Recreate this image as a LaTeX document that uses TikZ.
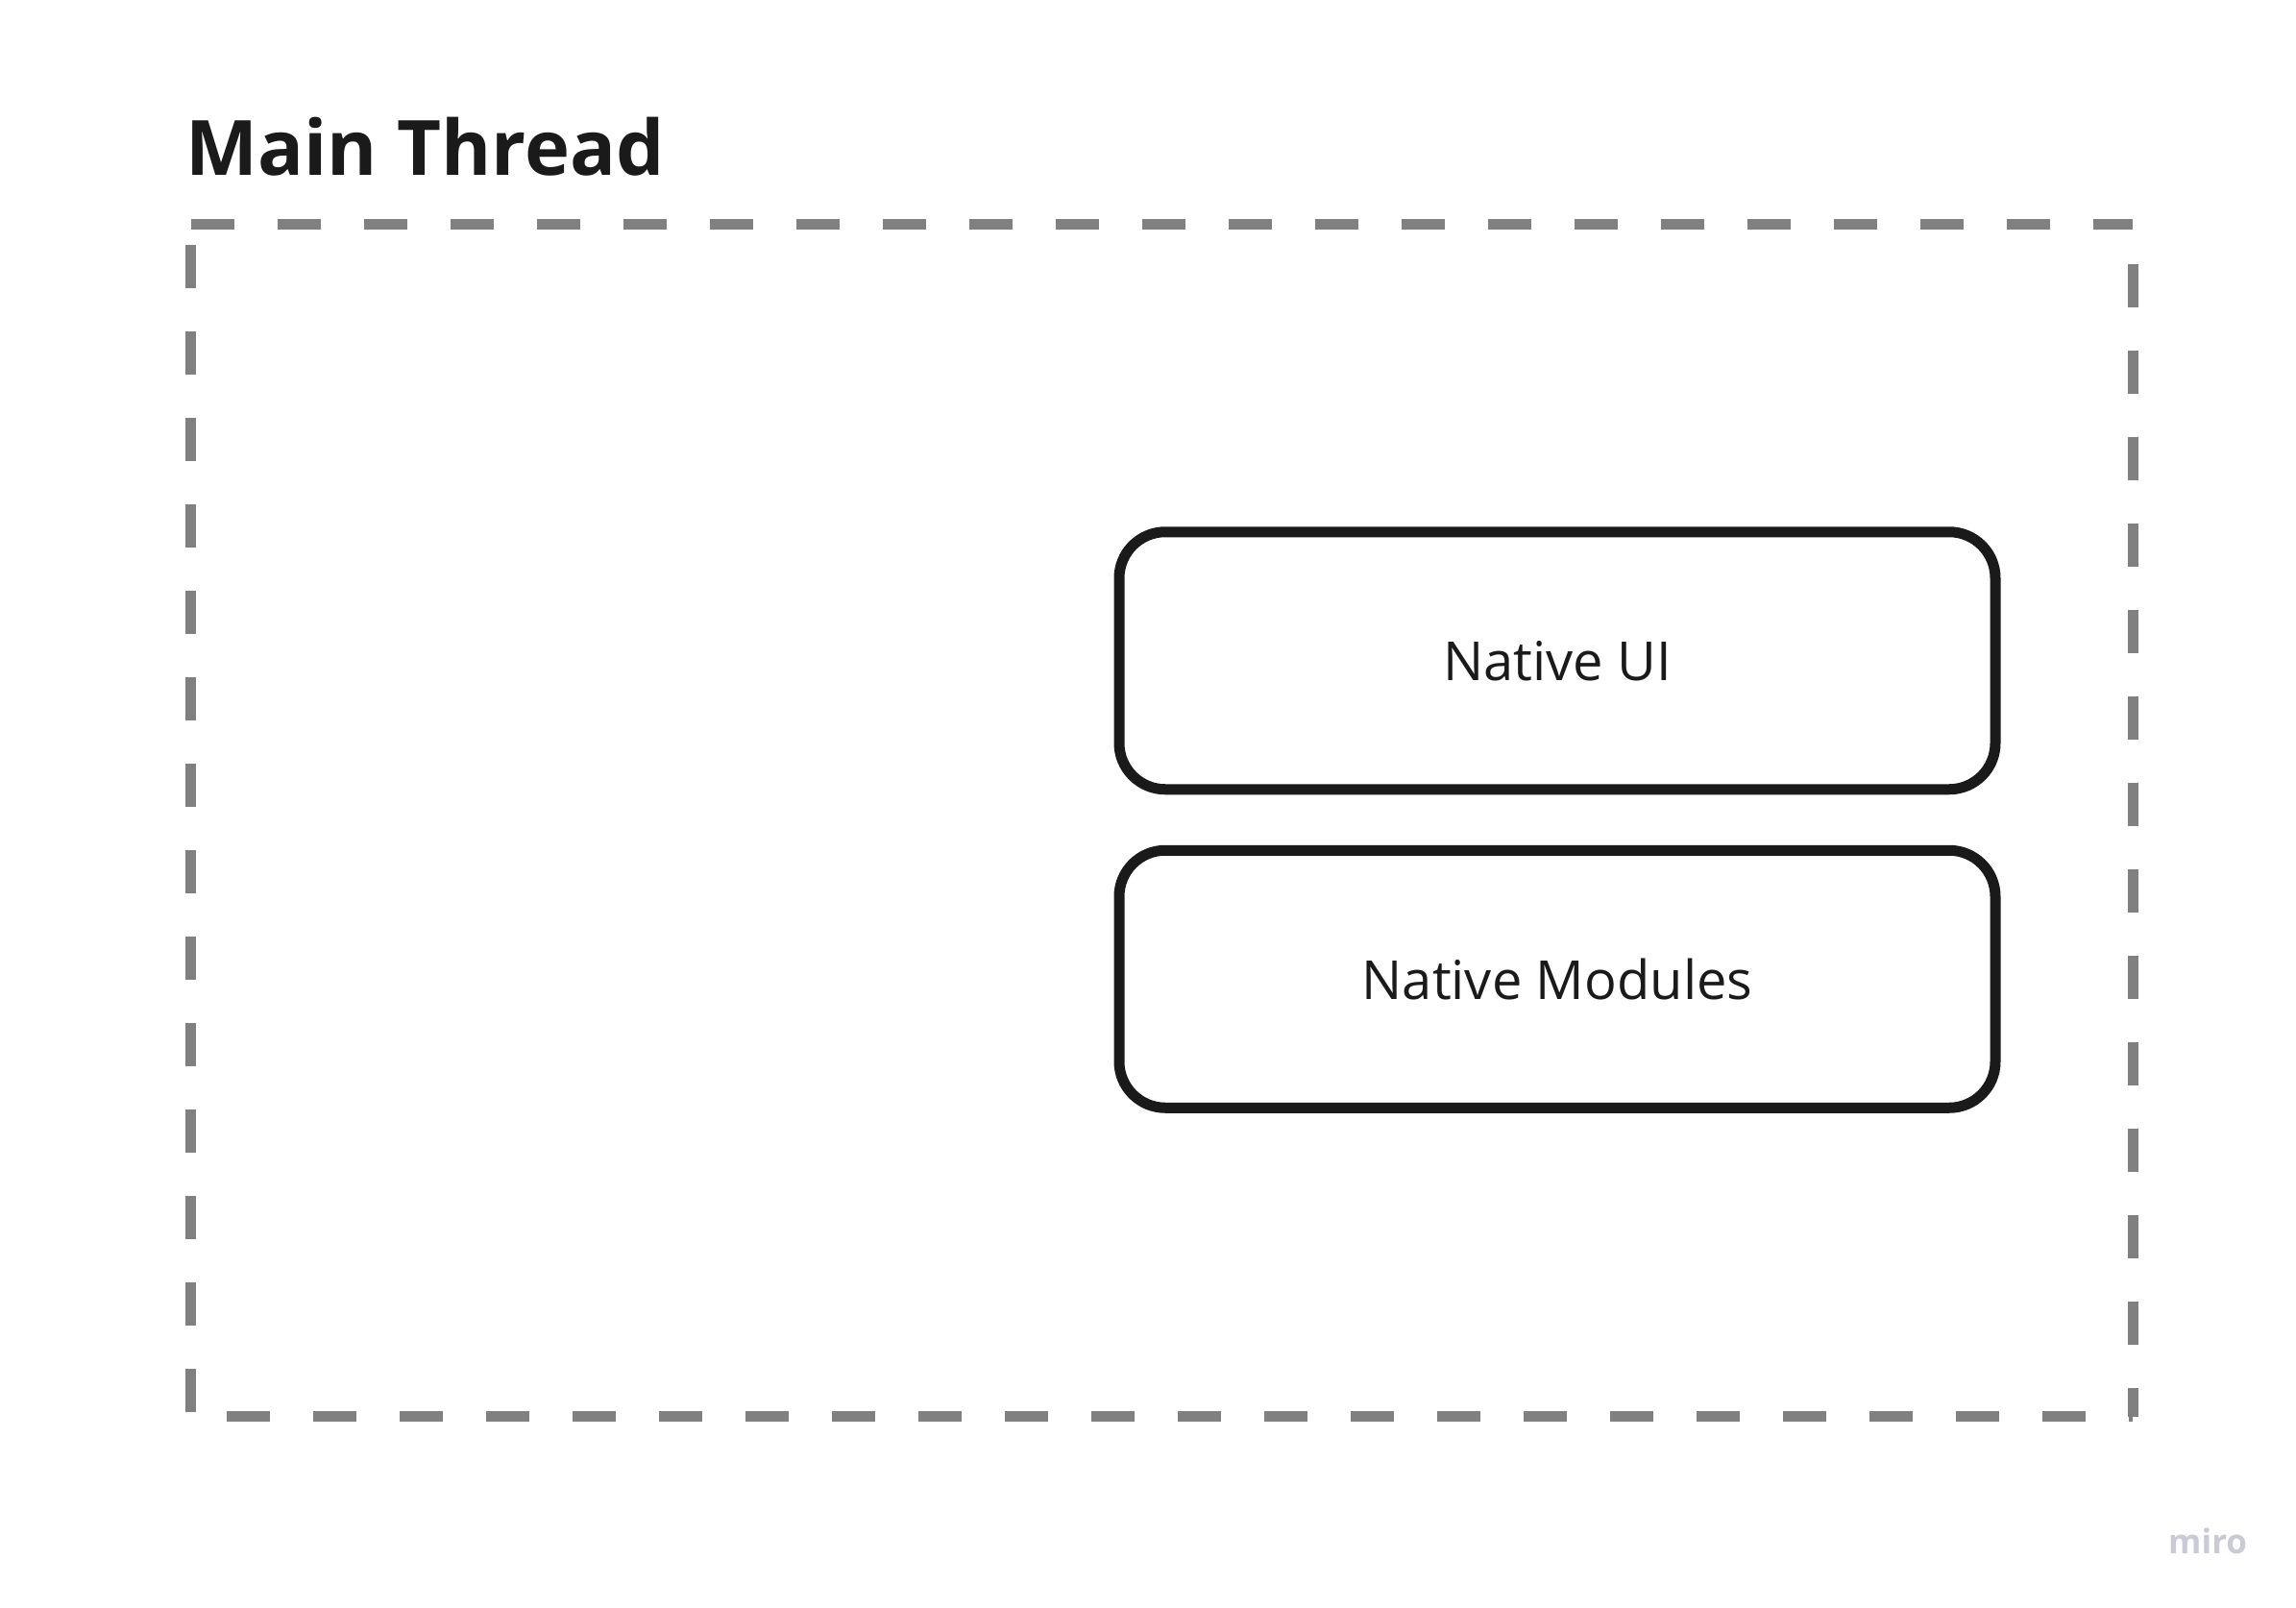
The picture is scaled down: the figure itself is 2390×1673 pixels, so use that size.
\documentclass[tikz,border=0pt]{standalone}
\usepackage{fontspec}
\setmainfont{Open Sans}
\usetikzlibrary{positioning}

\definecolor{inkdark}{HTML}{1A1A1A}
\definecolor{dashgray}{HTML}{808080}
\definecolor{logogray}{HTML}{CACAD6}

\tikzset{
	modbox/.style={draw=inkdark, line width=11pt, rounded corners=48pt,
		minimum width=912pt, minimum height=268pt, inner sep=0pt, outer sep=0pt,
		text=inkdark, font=\fontsize{56}{60}\selectfont},
	threadline/.style={draw=dashgray, line width=11pt, dash pattern=on 45pt off 45pt}
}

\begin{document}
\begin{tikzpicture}[x=1pt,y=-1pt]
		
		\useasboundingbox (0,0) rectangle (2390,1673);
		
		\node[anchor=base west, inner sep=0pt, text=inkdark,
			font=\fontsize{79.5}{84}\selectfont\bfseries] (title) at (193,182) {Main Thread};
		
		% dashed frame of the thread
		\coordinate (tl) at (198.5,233);
		\coordinate (tr) at (2220,233);
		\coordinate (br) at (2220,1474.5);
		\coordinate (bl) at (198.5,1474.5);
		\draw[threadline, dash phase=0pt] (tl) -- (tr);
		\draw[threadline, dash phase=48pt] (tr) -- (br);
		\draw[threadline, dash phase=52.5pt] (bl) -- (br);
		\draw[threadline, dash phase=68pt] (tl) -- (bl);
		
		\node[modbox] (nativeui) at (1621,687.75) {Native UI};
		\node[modbox, below=63.5pt of nativeui] (nativemod) {Native Modules};
		
		\node[anchor=base west, inner sep=0pt, text=logogray,
			font=\fontsize{35}{40}\selectfont\bfseries] (logo) at (2257,1617) {miro};
		
\end{tikzpicture}
\end{document}
